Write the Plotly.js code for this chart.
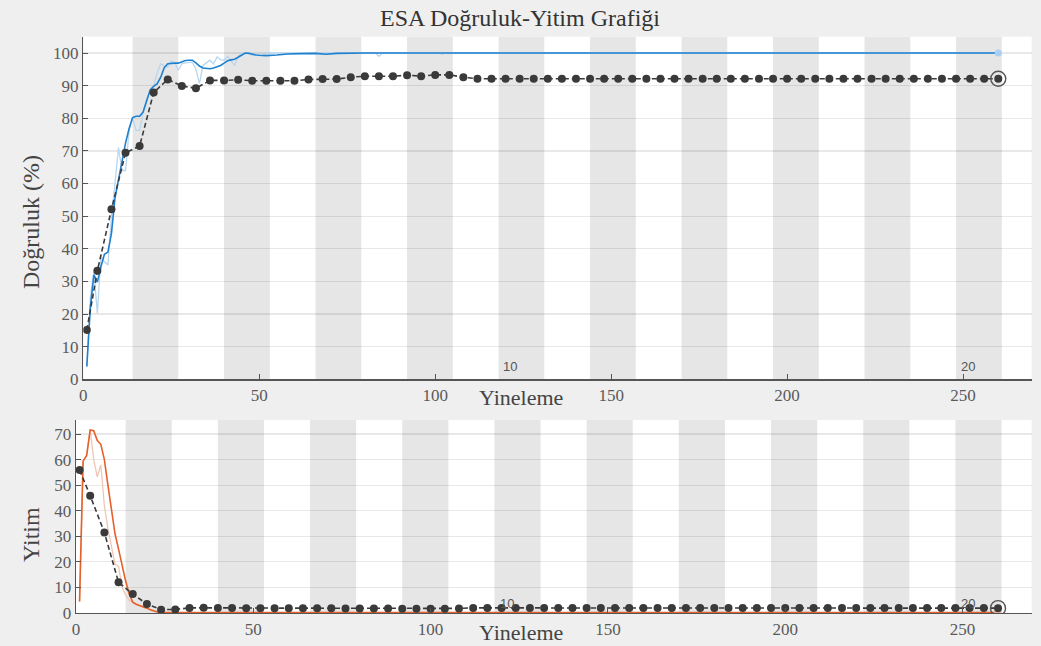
<!DOCTYPE html>
<html>
<head>
<meta charset="utf-8">
<script src="https://cdn.plot.ly/plotly-3.0.1.min.js"></script>
<style>
  html, body { margin: 0; padding: 0; background: #efefef; }
  #chart { width: 1041px; height: 646px; }
</style>
</head>
<body>
<div id="chart"></div>
<script>
// Training schedule
const itersPerEpoch = 13;
const numEpochs = 20;
const epochLabels = [10, 20];
const xTicks = [0, 50, 100, 150, 200, 250];

// Training accuracy (%), smoothed
const accSmoothIter = [1, 2, 3, 4, 5, 6, 7, 8, 9, 10, 11, 12, 13, 14, 15, 16, 17, 18, 19, 20,
  21, 22, 23, 24, 25, 26, 27, 28, 29, 30, 31, 32, 33, 34, 35, 36, 37, 38, 39, 40,
  41, 42, 43, 44, 45, 46, 47, 48, 49, 50, 52, 55, 58, 62, 66, 69, 72, 80, 260];
const accSmooth = [3.9, 22, 32, 29.8, 34.5, 38.3, 39, 44.7, 55.5, 61.5, 66.8, 72.4, 76.8, 80.2, 80.6, 80.6, 81.9, 85, 88.7, 89.8,
  90.6, 92.6, 95.5, 96.7, 96.9, 96.9, 96.9, 97.3, 97.7, 97.8, 97.8, 97, 96, 95.4, 95.3, 95.2, 95.4, 95.7, 96.2, 96.9,
  97.6, 97.9, 98.1, 98.7, 99.4, 100, 99.9, 99.6, 99.4, 99.3, 99.2, 99.4, 99.7, 99.8, 99.9, 99.6, 99.9, 100, 100];

// Training accuracy (%), per mini-batch
const accRawIter = [1, 2, 3, 4, 5, 6, 7, 8, 9, 10, 11, 12, 13, 14, 15, 16, 17, 18, 19, 20,
  21, 22, 23, 24, 25, 26, 27, 28, 29, 30, 31, 32, 33, 34, 35, 36, 37, 38, 39, 40,
  41, 42, 43, 44, 45, 46, 47, 48, 49, 50, 51, 52, 53, 83, 84, 85, 101, 102, 103, 260];
const accRaw = [3.9, 25, 33, 20.2, 37.5, 36, 35, 50, 60, 71, 64, 64, 76, 80, 76.3, 76.3, 82, 86, 88, 90,
  94, 96.7, 96, 95.7, 97.6, 97, 94.7, 96.7, 97, 97.2, 97.2, 95, 90.6, 96.2, 97, 97.8, 96.7, 98.8, 98, 97.8,
  99, 97.5, 96.2, 99, 99.8, 100, 100, 99.2, 100, 99.2, 99.2, 100, 100, 100, 99.0, 100, 100, 99.6, 100, 100];

// Validation checkpoints
const valIter = [1, 4, 8, 12, 16, 20, 24, 28, 32, 36, 40, 44, 48, 52, 56, 60, 64, 68, 72, 76,
  80, 84, 88, 92, 96, 100, 104, 108, 112, 116, 120, 124, 128, 132, 136, 140, 144, 148, 152, 156,
  160, 164, 168, 172, 176, 180, 184, 188, 192, 196, 200, 204, 208, 212, 216, 220, 224, 228, 232, 236,
  240, 244, 248, 252, 256, 260];
const valAcc = [15.1, 33.3, 52.1, 69.4, 71.5, 87.9, 91.9, 89.9, 89.2, 91.6, 91.6, 91.8, 91.5, 91.5, 91.5, 91.5, 91.9, 92.0, 92.0, 92.6,
  92.9, 92.9, 92.9, 93.2, 92.9, 93.3, 93.3, 92.6, 92.1, 92.1, 92.1, 92.1, 92.1, 92.1, 92.1, 92.1, 92.1, 92.1, 92.1, 92.1,
  92.1, 92.1, 92.1, 92.1, 92.1, 92.1, 92.1, 92.1, 92.1, 92.1, 92.1, 92.1, 92.1, 92.1, 92.1, 92.1, 92.1, 92.1, 92.1, 92.1,
  92.1, 92.1, 92.1, 92.1, 92.1, 92.1];
const valLoss = [55.9, 45.9, 31.5, 12.0, 7.4, 3.5, 1.3, 1.4, 2.0, 2.1, 2.0, 2.0, 1.9, 1.9, 1.9, 1.9, 1.9, 1.9, 1.9, 1.8,
  1.8, 1.8, 1.8, 1.7, 1.7, 1.7, 1.7, 1.8, 2.0, 2.0, 2.0, 2.0, 2.0, 2.0, 2.0, 2.0, 2.0, 2.0, 2.0, 2.0,
  2.0, 2.0, 2.0, 2.0, 2.0, 2.0, 2.0, 2.0, 2.0, 2.0, 2.0, 2.0, 2.0, 2.0, 2.0, 2.0, 2.0, 2.0, 2.0, 2.0,
  2.0, 2.0, 2.0, 2.0, 2.0, 1.9];

// Training loss, smoothed
const lossSmoothIter = [1, 2, 3, 4, 5, 6, 7, 8, 9, 10, 11, 12, 13, 14, 15, 16, 17, 18, 19, 20,
  21, 22, 23, 24, 30, 260];
const lossSmooth = [4.5, 59.5, 61.5, 71.6, 71.3, 67.5, 66, 60, 50, 41, 31, 25, 18.5, 12.5, 7.5, 4.2, 3.4, 3, 2.4, 1.9,
  1.3, 0.7, 0.4, 0.3, 0.2, 0.2];

// Training loss, per mini-batch
const lossRawIter = [1, 2, 3, 4, 5, 6, 7, 8, 9, 10, 11, 12, 13, 14, 15, 16, 17, 18, 19, 20,
  21, 22, 23, 24, 30, 260];
const lossRaw = [4.5, 59, 62, 71.6, 60, 53.3, 57.9, 42, 33, 26, 19, 18.2, 10, 7, 5, 4, 3.2, 2.8, 2.2, 1.6,
  1.0, 0.5, 0.3, 0.2, 0.15, 0.15];

const serif = 'Liberation Serif, Times New Roman, serif';
const sans = 'Liberation Sans, Arial, sans-serif';
const darkMark = '#3a3a3a';
const last = a => a[a.length - 1];

const traces = [
  // accuracy panel
  { x: accRawIter, y: accRaw, xaxis: 'x', yaxis: 'y', mode: 'lines',
    line: { color: '#b9d6ef', width: 1.3 } },
  { x: accSmoothIter, y: accSmooth, xaxis: 'x', yaxis: 'y', mode: 'lines',
    line: { color: '#1f80d0', width: 1.6 } },
  { x: [last(accSmoothIter)], y: [last(accSmooth)], xaxis: 'x', yaxis: 'y', mode: 'markers',
    marker: { color: '#a9d0f2', size: 7 } },
  { x: valIter, y: valAcc, xaxis: 'x', yaxis: 'y', mode: 'lines+markers',
    line: { color: darkMark, width: 1.6, dash: '5px,3px' },
    marker: { color: darkMark, size: 8 } },
  { x: [last(valIter)], y: [last(valAcc)], xaxis: 'x', yaxis: 'y', mode: 'markers',
    marker: { symbol: 'circle-open', color: '#555', size: 15, line: { width: 1.4 } } },

  // loss panel
  { x: lossRawIter, y: lossRaw, xaxis: 'x2', yaxis: 'y2', mode: 'lines',
    line: { color: '#efc6b6', width: 1.3 } },
  { x: lossSmoothIter, y: lossSmooth, xaxis: 'x2', yaxis: 'y2', mode: 'lines',
    line: { color: '#e5602a', width: 1.6 } },
  { x: [last(lossSmoothIter)], y: [last(lossSmooth)], xaxis: 'x2', yaxis: 'y2', mode: 'markers',
    marker: { color: '#f2b59b', size: 7 } },
  { x: valIter, y: valLoss, xaxis: 'x2', yaxis: 'y2', mode: 'lines+markers',
    line: { color: darkMark, width: 1.6, dash: '5px,3px' },
    marker: { color: darkMark, size: 8 } },
  { x: [last(valIter)], y: [last(valLoss)], xaxis: 'x2', yaxis: 'y2', mode: 'markers',
    marker: { symbol: 'circle-open', color: '#555', size: 15, line: { width: 1.4 } } }
];

// alternating epoch shading (even epochs), each epoch starting at its first iteration
const shapes = [];
for (let e = 2; e <= numEpochs; e += 2) {
  ['', '2'].forEach(s => {
    shapes.push({
      type: 'rect', layer: 'below',
      xref: 'x' + s, yref: 'y' + s + ' domain',
      x0: (e - 1) * itersPerEpoch + 1, x1: e * itersPerEpoch + 1, y0: 0, y1: 1,
      fillcolor: '#e6e6e6', line: { width: 0 }
    });
  });
}

const W = 1041, H = 646;
const px = v => v / W, py = v => 1 - v / H;

const annotations = [
  { text: 'ESA Doğruluk-Yitim Grafiği', xref: 'paper', yref: 'paper', x: px(520), y: py(18),
    showarrow: false, xanchor: 'center', yanchor: 'middle', font: { family: serif, size: 24, color: '#333' } },
  { text: 'Doğruluk (%)', xref: 'paper', yref: 'paper', x: px(31), y: py(222), textangle: -90,
    showarrow: false, xanchor: 'center', yanchor: 'middle', font: { family: serif, size: 24, color: '#444' } },
  { text: 'Yitim', xref: 'paper', yref: 'paper', x: px(31), y: py(535), textangle: -90,
    showarrow: false, xanchor: 'center', yanchor: 'middle', font: { family: serif, size: 24, color: '#444' } },
  { text: 'Yineleme', xref: 'paper', yref: 'paper', x: px(521), y: py(397),
    showarrow: false, xanchor: 'center', yanchor: 'middle', font: { family: serif, size: 22, color: '#444' } },
  { text: 'Yineleme', xref: 'paper', yref: 'paper', x: px(521), y: py(632),
    showarrow: false, xanchor: 'center', yanchor: 'middle', font: { family: serif, size: 22, color: '#444' } }
];
epochLabels.forEach(e => {
  const xc = (e - 1) * itersPerEpoch + 1 + itersPerEpoch / 2;
  annotations.push({ text: String(e), xref: 'x', yref: 'paper', x: xc, xshift: -11, y: py(366),
    showarrow: false, xanchor: 'center', yanchor: 'middle', font: { family: sans, size: 13, color: '#555' } });
  annotations.push({ text: String(e), xref: 'x2', yref: 'paper', x: xc, xshift: -11, y: py(603),
    showarrow: false, xanchor: 'center', yanchor: 'middle', font: { family: sans, size: 13, color: '#555' } });
});

const axisCommon = {
  showline: true, linecolor: '#555', linewidth: 1.3,
  ticks: 'inside', ticklen: 5, tickcolor: '#555', tickwidth: 1,
  tickfont: { family: serif, size: 17, color: '#5a5a5a' },
  zeroline: false, fixedrange: true
};

const layout = {
  width: W, height: H,
  margin: { l: 0, r: 0, t: 0, b: 0 },
  paper_bgcolor: '#efefef',
  plot_bgcolor: '#ffffff',
  showlegend: false,
  xaxis: Object.assign({}, axisCommon, {
    domain: [px(83.3), px(1031.7)], range: [0, 269.5], anchor: 'y',
    tickvals: xTicks, showgrid: false
  }),
  yaxis: Object.assign({}, axisCommon, {
    domain: [py(379.3), py(36.7)], range: [0, 105], anchor: 'x',
    dtick: 10, tick0: 0, showgrid: true, gridcolor: 'rgba(0,0,0,0.09)', gridwidth: 1.2
  }),
  xaxis2: Object.assign({}, axisCommon, {
    domain: [px(76), px(1031.7)], range: [0, 269.5], anchor: 'y2',
    tickvals: xTicks, showgrid: false
  }),
  yaxis2: Object.assign({}, axisCommon, {
    domain: [py(613), py(420)], range: [0, 75.5], anchor: 'x2',
    dtick: 10, tick0: 0, showgrid: true, gridcolor: 'rgba(0,0,0,0.09)', gridwidth: 1.2
  }),
  shapes: shapes,
  annotations: annotations
};

Plotly.newPlot('chart', traces, layout, { staticPlot: true, displayModeBar: false });
</script>
</body>
</html>
